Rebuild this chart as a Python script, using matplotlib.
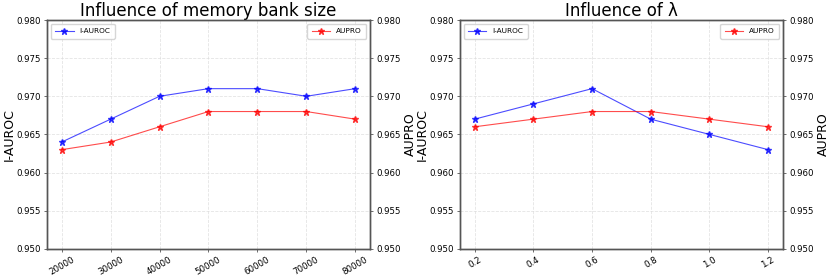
import numpy as np
import matplotlib
matplotlib.use("Agg")
import matplotlib.pyplot as plt

# memory bank size experiment
bank_sizes = [20000, 30000, 40000, 50000, 60000, 70000, 80000]
bank_auroc = [0.964, 0.967, 0.970, 0.971, 0.971, 0.970, 0.971]
bank_aupro = [0.963, 0.964, 0.966, 0.968, 0.968, 0.968, 0.967]

# lambda experiment
lambdas = [0.2, 0.4, 0.6, 0.8, 1.0, 1.2]
lam_auroc = [0.967, 0.969, 0.971, 0.967, 0.965, 0.963]
lam_aupro = [0.966, 0.967, 0.968, 0.968, 0.967, 0.966]

yticks = [0.950, 0.955, 0.960, 0.965, 0.970, 0.975, 0.980]


def drawPanel(ax, x, auroc, aupro, title):
    """One panel with twin y axes"""
    ax2 = ax.twinx()
    ax.plot(x, auroc, color="b", alpha=0.7, linewidth=0.8, marker="*",
            markersize=4.5, markerfacecolor="b", markeredgecolor="b",
            label="I-AUROC")
    ax2.plot(x, aupro, color="r", alpha=0.7, linewidth=0.8, marker="*",
             markersize=4.5, markerfacecolor="r", markeredgecolor="r",
             label="AUPRO")
    for a in (ax, ax2):
        a.set_ylim(0.95, 0.98)
        a.set_yticks(yticks)
        a.set_yticklabels([f"{t:.3f}" for t in yticks], fontsize=6.2)
        for s in a.spines.values():
            s.set_color("#555555")
            s.set_linewidth(1.0)
        a.tick_params(length=2.5, width=0.6, color="#555555", pad=2)
    ax.set_xticks(x)
    ax.set_xticklabels([str(v) for v in x], rotation=30, fontsize=6.2)
    ax.grid(True, linestyle="--", linewidth=0.6, color="#dddddd", alpha=0.8)
    ax.set_ylabel("I-AUROC", fontsize=9, labelpad=0.5)
    ax2.set_ylabel("AUPRO", fontsize=9, labelpad=2.5)
    ax.set_title(title, fontsize=12, pad=3)
    ax.legend(loc="upper left", fontsize=5.3, handlelength=2.5,
              borderpad=0.6)
    ax2.legend(loc="upper right", fontsize=5.3, handlelength=2.5,
               borderpad=0.6)


fig, axs = plt.subplots(1, 2, figsize=(8.31, 2.78), dpi=100)
fig.subplots_adjust(left=0.0566, right=0.942, bottom=0.105, top=0.928,
                    wspace=0.279)
drawPanel(axs[0], bank_sizes, bank_auroc, bank_aupro,
          "Influence of memory bank size")
drawPanel(axs[1], lambdas, lam_auroc, lam_aupro, "Influence of λ")
fig.savefig("out.png", dpi=100)
